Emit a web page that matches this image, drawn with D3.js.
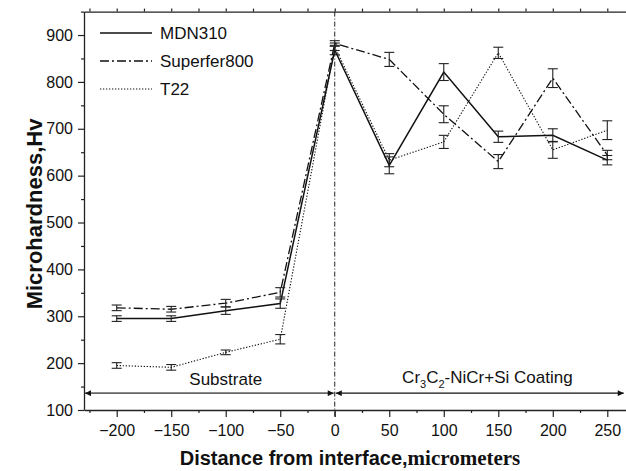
<!DOCTYPE html>
<html>
<head>
<meta charset="utf-8">
<script src="https://cdn.jsdelivr.net/npm/d3@7"></script>
<style>
  body { margin: 0; background: #fff; }
  svg { display: block; font-family: "Liberation Sans", Arial, sans-serif; }
</style>
</head>
<body>
<svg id="chart" width="626" height="471"></svg>
<script>
// distance from interface (micrometers)
const distance = [-200, -150, -100, -50, 0, 50, 100, 150, 200, 250];

// microhardness (Hv) and error bar half-widths
const mdn310 = [295, 295, 312, 327, 868, 622, 821, 683, 686, 633];
const mdn310Err = [6, 6, 8, 10, 10, 18, 18, 12, 14, 10];
const superfer800 = [318, 315, 328, 351, 882, 848, 731, 630, 808, 644];
const superfer800Err = [6, 6, 8, 10, 6, 15, 18, 15, 20, 10];
const t22 = [195, 191, 223, 251, 875, 633, 672, 862, 655, 697];
const t22Err = [6, 6, 5, 10, 8, 14, 14, 12, 18, 20];

const seriesNames = ["MDN310", "Superfer800", "T22"];
const xTicks = [-200, -150, -100, -50, 0, 50, 100, 150, 200, 250];
const yTicks = [100, 200, 300, 400, 500, 600, 700, 800, 900];

const svg = d3.select("#chart");
const width = 626;

// plot runs past the right edge of the picture (cropped in the original)
const x = d3.scaleLinear().domain([-230, 280]).range([84, 640]);
const y = d3.scaleLinear().domain([100, 950]).range([410, 11.6]);

const series = [
  { name: seriesNames[0], values: mdn310, err: mdn310Err, dash: null, width: 1.5 },
  { name: seriesNames[1], values: superfer800, err: superfer800Err, dash: "9,3,2,3", width: 1.3 },
  { name: seriesNames[2], values: t22, err: t22Err, dash: "1.3,1.7", width: 1.1 }
];

svg.append("rect").attr("width", width).attr("height", 471).attr("fill", "#fff");

// ---- axes
const axisG = svg.append("g").attr("class", "axes");

const minorX = d3.range(-225, 281, 25).filter(v => xTicks.indexOf(v) < 0);
const minorY = d3.range(150, 951, 100);

// bottom
axisG.append("g")
    .attr("transform", `translate(0,${y(100)})`)
    .call(d3.axisBottom(x).tickValues(minorX).tickSize(3).tickFormat(""))
    .call(g => g.select(".domain").remove());
axisG.append("g")
    .attr("transform", `translate(0,${y(100)})`)
    .call(d3.axisBottom(x).tickValues(xTicks).tickSize(7).tickSizeOuter(0).tickPadding(8))
    .call(g => g.selectAll("text").attr("font-size", 16).attr("fill", "#111").attr("font-family", null));

// top
axisG.append("g")
    .attr("transform", `translate(0,${y(950)})`)
    .call(d3.axisTop(x).tickValues(d3.range(-225, 281, 25)).tickSize(3).tickSizeOuter(0).tickFormat(""));

// left
axisG.append("g")
    .attr("transform", `translate(${x(-230)},0)`)
    .call(d3.axisLeft(y).tickValues(minorY).tickSize(3).tickFormat(""))
    .call(g => g.select(".domain").remove());
axisG.append("g")
    .attr("transform", `translate(${x(-230)},0)`)
    .call(d3.axisLeft(y).tickValues(yTicks).tickSize(6).tickSizeOuter(0).tickPadding(5))
    .call(g => g.selectAll("text").attr("font-size", 16).attr("fill", "#111").attr("font-family", null));

axisG.selectAll("path.domain").attr("stroke", "#222").attr("stroke-width", 1.3);
axisG.selectAll(".tick line").attr("stroke", "#222").attr("stroke-width", 1.2);

// ---- interface line at x = 0
svg.append("line")
    .attr("x1", x(0)).attr("x2", x(0))
    .attr("y1", y(950)).attr("y2", y(100) + 7)
    .attr("stroke", "#222").attr("stroke-width", 1)
    .attr("stroke-dasharray", "5,2,1,2");

// ---- region arrows
const arrowLevel = 136;
const regions = [
  { from: -230, to: 0, mid: -100, color: "#666", w: 1.6 },
  { from: 0, to: 266, mid: 140, color: "#111", w: 1.1 }
];

const defs = svg.append("defs");
regions.forEach((r, i) => {
  defs.append("marker")
      .attr("id", "arr" + i)
      .attr("viewBox", "0 0 10 10")
      .attr("refX", 10).attr("refY", 5)
      .attr("markerUnits", "userSpaceOnUse")
      .attr("markerWidth", 9).attr("markerHeight", 6)
      .attr("orient", "auto-start-reverse")
    .append("path")
      .attr("d", "M0,0L10,5L0,10z")
      .attr("fill", "#111");
});

svg.selectAll(".region")
    .data(regions)
    .join("line")
    .attr("class", "region")
    .attr("x1", d => x(d.from) + 1).attr("x2", d => x(d.to) - 1)
    .attr("y1", y(arrowLevel)).attr("y2", y(arrowLevel))
    .attr("stroke", d => d.color).attr("stroke-width", d => d.w)
    .attr("marker-start", (d, i) => `url(#arr${i})`)
    .attr("marker-end", (d, i) => `url(#arr${i})`);

svg.append("text")
    .attr("x", x(regions[0].mid)).attr("y", y(arrowLevel) - 8)
    .attr("text-anchor", "middle").attr("font-size", 17).attr("fill", "#111")
    .text("Substrate");

const coat = svg.append("text")
    .attr("x", x(regions[1].mid)).attr("y", y(arrowLevel) - 10)
    .attr("text-anchor", "middle").attr("font-size", 17).attr("fill", "#111");
coat.append("tspan").text("Cr");
coat.append("tspan").attr("font-size", 11).attr("dy", 5).text("3");
coat.append("tspan").attr("dy", -5).text("C");
coat.append("tspan").attr("font-size", 11).attr("dy", 5).text("2");
coat.append("tspan").attr("dy", -5).text("-NiCr+Si Coating");

// ---- series lines
const line = d3.line()
    .x((d, i) => x(distance[i]))
    .y(d => y(d));

const plot = svg.append("g").attr("class", "series");

series.forEach(s => {
  plot.append("path")
      .datum(s.values)
      .attr("fill", "none")
      .attr("stroke", "#111")
      .attr("stroke-width", s.width)
      .attr("stroke-dasharray", s.dash)
      .attr("d", line);

  // error bars
  const eb = plot.append("g").selectAll("g")
      .data(s.values.map((v, i) => ({ x: distance[i], v: v, e: s.err[i] })))
      .join("g")
      .attr("stroke", "#222").attr("stroke-width", 1.1);
  eb.append("line")
      .attr("x1", d => x(d.x)).attr("x2", d => x(d.x))
      .attr("y1", d => y(d.v - d.e)).attr("y2", d => y(d.v + d.e));
  eb.append("line")
      .attr("x1", d => x(d.x) - 5).attr("x2", d => x(d.x) + 5)
      .attr("y1", d => y(d.v + d.e)).attr("y2", d => y(d.v + d.e));
  eb.append("line")
      .attr("x1", d => x(d.x) - 5).attr("x2", d => x(d.x) + 5)
      .attr("y1", d => y(d.v - d.e)).attr("y2", d => y(d.v - d.e));
});

// ---- legend
const legend = svg.append("g")
    .selectAll("g")
    .data(series)
    .join("g")
    .attr("transform", (d, i) => `translate(100,${33 + i * 28})`);
legend.append("line")
    .attr("x1", 0).attr("x2", 52)
    .attr("stroke", "#111")
    .attr("stroke-width", d => d.width)
    .attr("stroke-dasharray", d => d.dash);
legend.append("text")
    .attr("x", 60).attr("dy", "0.35em")
    .attr("font-size", 17).attr("fill", "#111")
    .text(d => d.name);

// ---- axis titles
svg.append("text")
    .attr("transform", `translate(42,${214}) rotate(-90)`)
    .attr("text-anchor", "middle")
    .attr("font-size", 22).attr("font-weight", "bold").attr("fill", "#111")
    .text("Microhardness,Hv");

const xt = svg.append("text")
    .attr("x", 350).attr("y", 465)
    .attr("text-anchor", "middle").attr("fill", "#111");
xt.append("tspan")
    .attr("font-size", 20).attr("font-weight", "bold")
    .text("Distance from interface,");
xt.append("tspan")
    .attr("font-family", "'Liberation Serif', 'Times New Roman', serif")
    .attr("font-size", 21).attr("font-weight", "bold")
    .text("micrometers");
</script>
</body>
</html>
